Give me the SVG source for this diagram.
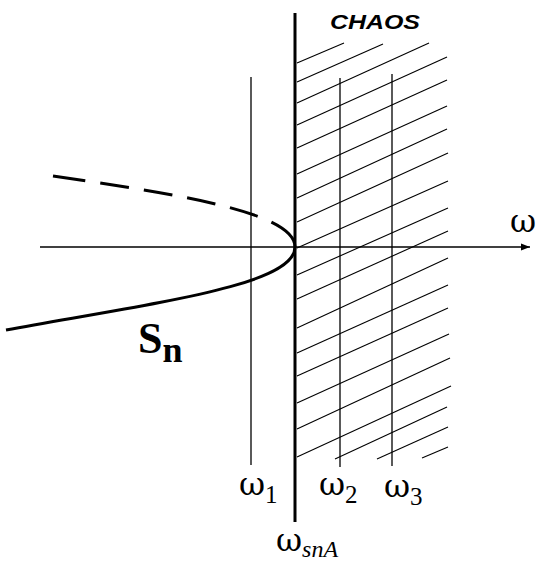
<svg xmlns="http://www.w3.org/2000/svg" width="536" height="561" viewBox="0 0 536 561">
<style>
.thin{stroke:#000;stroke-width:1.3;fill:none}
.hatch{stroke:#000;stroke-width:1.1;fill:none}
.thick{stroke:#000;stroke-width:3;fill:none}
.w{font-family:"DejaVu Serif","Liberation Serif",serif;font-size:32px;fill:#000}
.sub{font-family:"Liberation Serif","Times New Roman",serif;font-size:25px}
.it{font-family:"Liberation Serif","Times New Roman",serif;font-style:italic;font-size:24px}
.chaos{font-family:"Liberation Sans",Arial,sans-serif;font-weight:bold;font-style:italic;font-size:21px;fill:#000}
.sn{font-family:"Liberation Serif","Times New Roman",serif;font-weight:bold;font-size:44px;fill:#000}
</style>
<defs>
<marker id="arr" markerWidth="10" markerHeight="8" refX="9" refY="4" orient="auto" markerUnits="userSpaceOnUse">
<path d="M0,0.5 L9,4 L0,7.5 Z" fill="#000"/>
</marker>
</defs>
<rect width="536" height="561" fill="#fff"/>
<g id="hatching">
<line class="hatch" x1="297" y1="63" x2="344" y2="43"/>
<line class="hatch" x1="297" y1="82" x2="383" y2="44"/>
<line class="hatch" x1="297" y1="103" x2="429" y2="43"/>
<line class="hatch" x1="297" y1="125" x2="447" y2="57"/>
<line class="hatch" x1="297" y1="148" x2="447" y2="80"/>
<line class="hatch" x1="297" y1="174" x2="447" y2="106"/>
<line class="hatch" x1="297" y1="198" x2="447" y2="129"/>
<line class="hatch" x1="297" y1="222" x2="448" y2="153"/>
<line class="hatch" x1="297" y1="248" x2="448" y2="181"/>
<line class="hatch" x1="297" y1="275" x2="448" y2="208"/>
<line class="hatch" x1="297" y1="299" x2="448" y2="231"/>
<line class="hatch" x1="297" y1="328" x2="448" y2="258"/>
<line class="hatch" x1="297" y1="353" x2="448" y2="285"/>
<line class="hatch" x1="297" y1="376" x2="448" y2="308"/>
<line class="hatch" x1="297" y1="403" x2="449" y2="334"/>
<line class="hatch" x1="297" y1="429" x2="450" y2="358"/>
<line class="hatch" x1="297" y1="457" x2="451" y2="386"/>
<line class="hatch" x1="335" y1="459" x2="447" y2="407"/>
<line class="hatch" x1="377" y1="459" x2="448" y2="427"/>
<line class="hatch" x1="422" y1="458" x2="448" y2="447"/>
</g>
<g id="connectors">
<line id="axis" class="thin" x1="40" y1="247" x2="530" y2="247" marker-end="url(#arr)"/>
<line id="line-w1" class="thin" x1="251" y1="77" x2="251" y2="465"/>
<line id="line-w2" class="thin" x1="340" y1="78" x2="340" y2="467"/>
<line id="line-w3" class="thin" x1="392" y1="74" x2="392" y2="466"/>
<line id="line-wsnA" class="thick" x1="295" y1="13" x2="295" y2="522"/>
</g>
<g id="curve-Sn">
<path class="thick" d="M295,247 C295,285 160,302 6,330"/>
<path class="thick" d="M295,247 C295,210 160,192 53,176" stroke-dasharray="36 15 29 15 29 15 29 15 29 15 40"/>
<text class="sn" x="138" y="353">S<tspan font-size="36" dy="9">n</tspan></text>
</g>
<g id="label-chaos">
<text class="chaos" x="330" y="28.5" textLength="90" lengthAdjust="spacingAndGlyphs">CHAOS</text>
</g>
<g id="label-omega-axis"><text class="w" x="510" y="232">ω</text></g>
<g id="label-w1"><text class="w" x="239" y="495">ω<tspan class="sub" dy="8">1</tspan></text></g>
<g id="label-w2"><text class="w" x="319" y="495">ω<tspan class="sub" dy="8">2</tspan></text></g>
<g id="label-w3"><text class="w" x="384" y="497">ω<tspan class="sub" dy="8">3</tspan></text></g>
<g id="label-wsnA"><text class="w" x="276" y="551">ω<tspan class="it" dy="6">snA</tspan></text></g>
</svg>
